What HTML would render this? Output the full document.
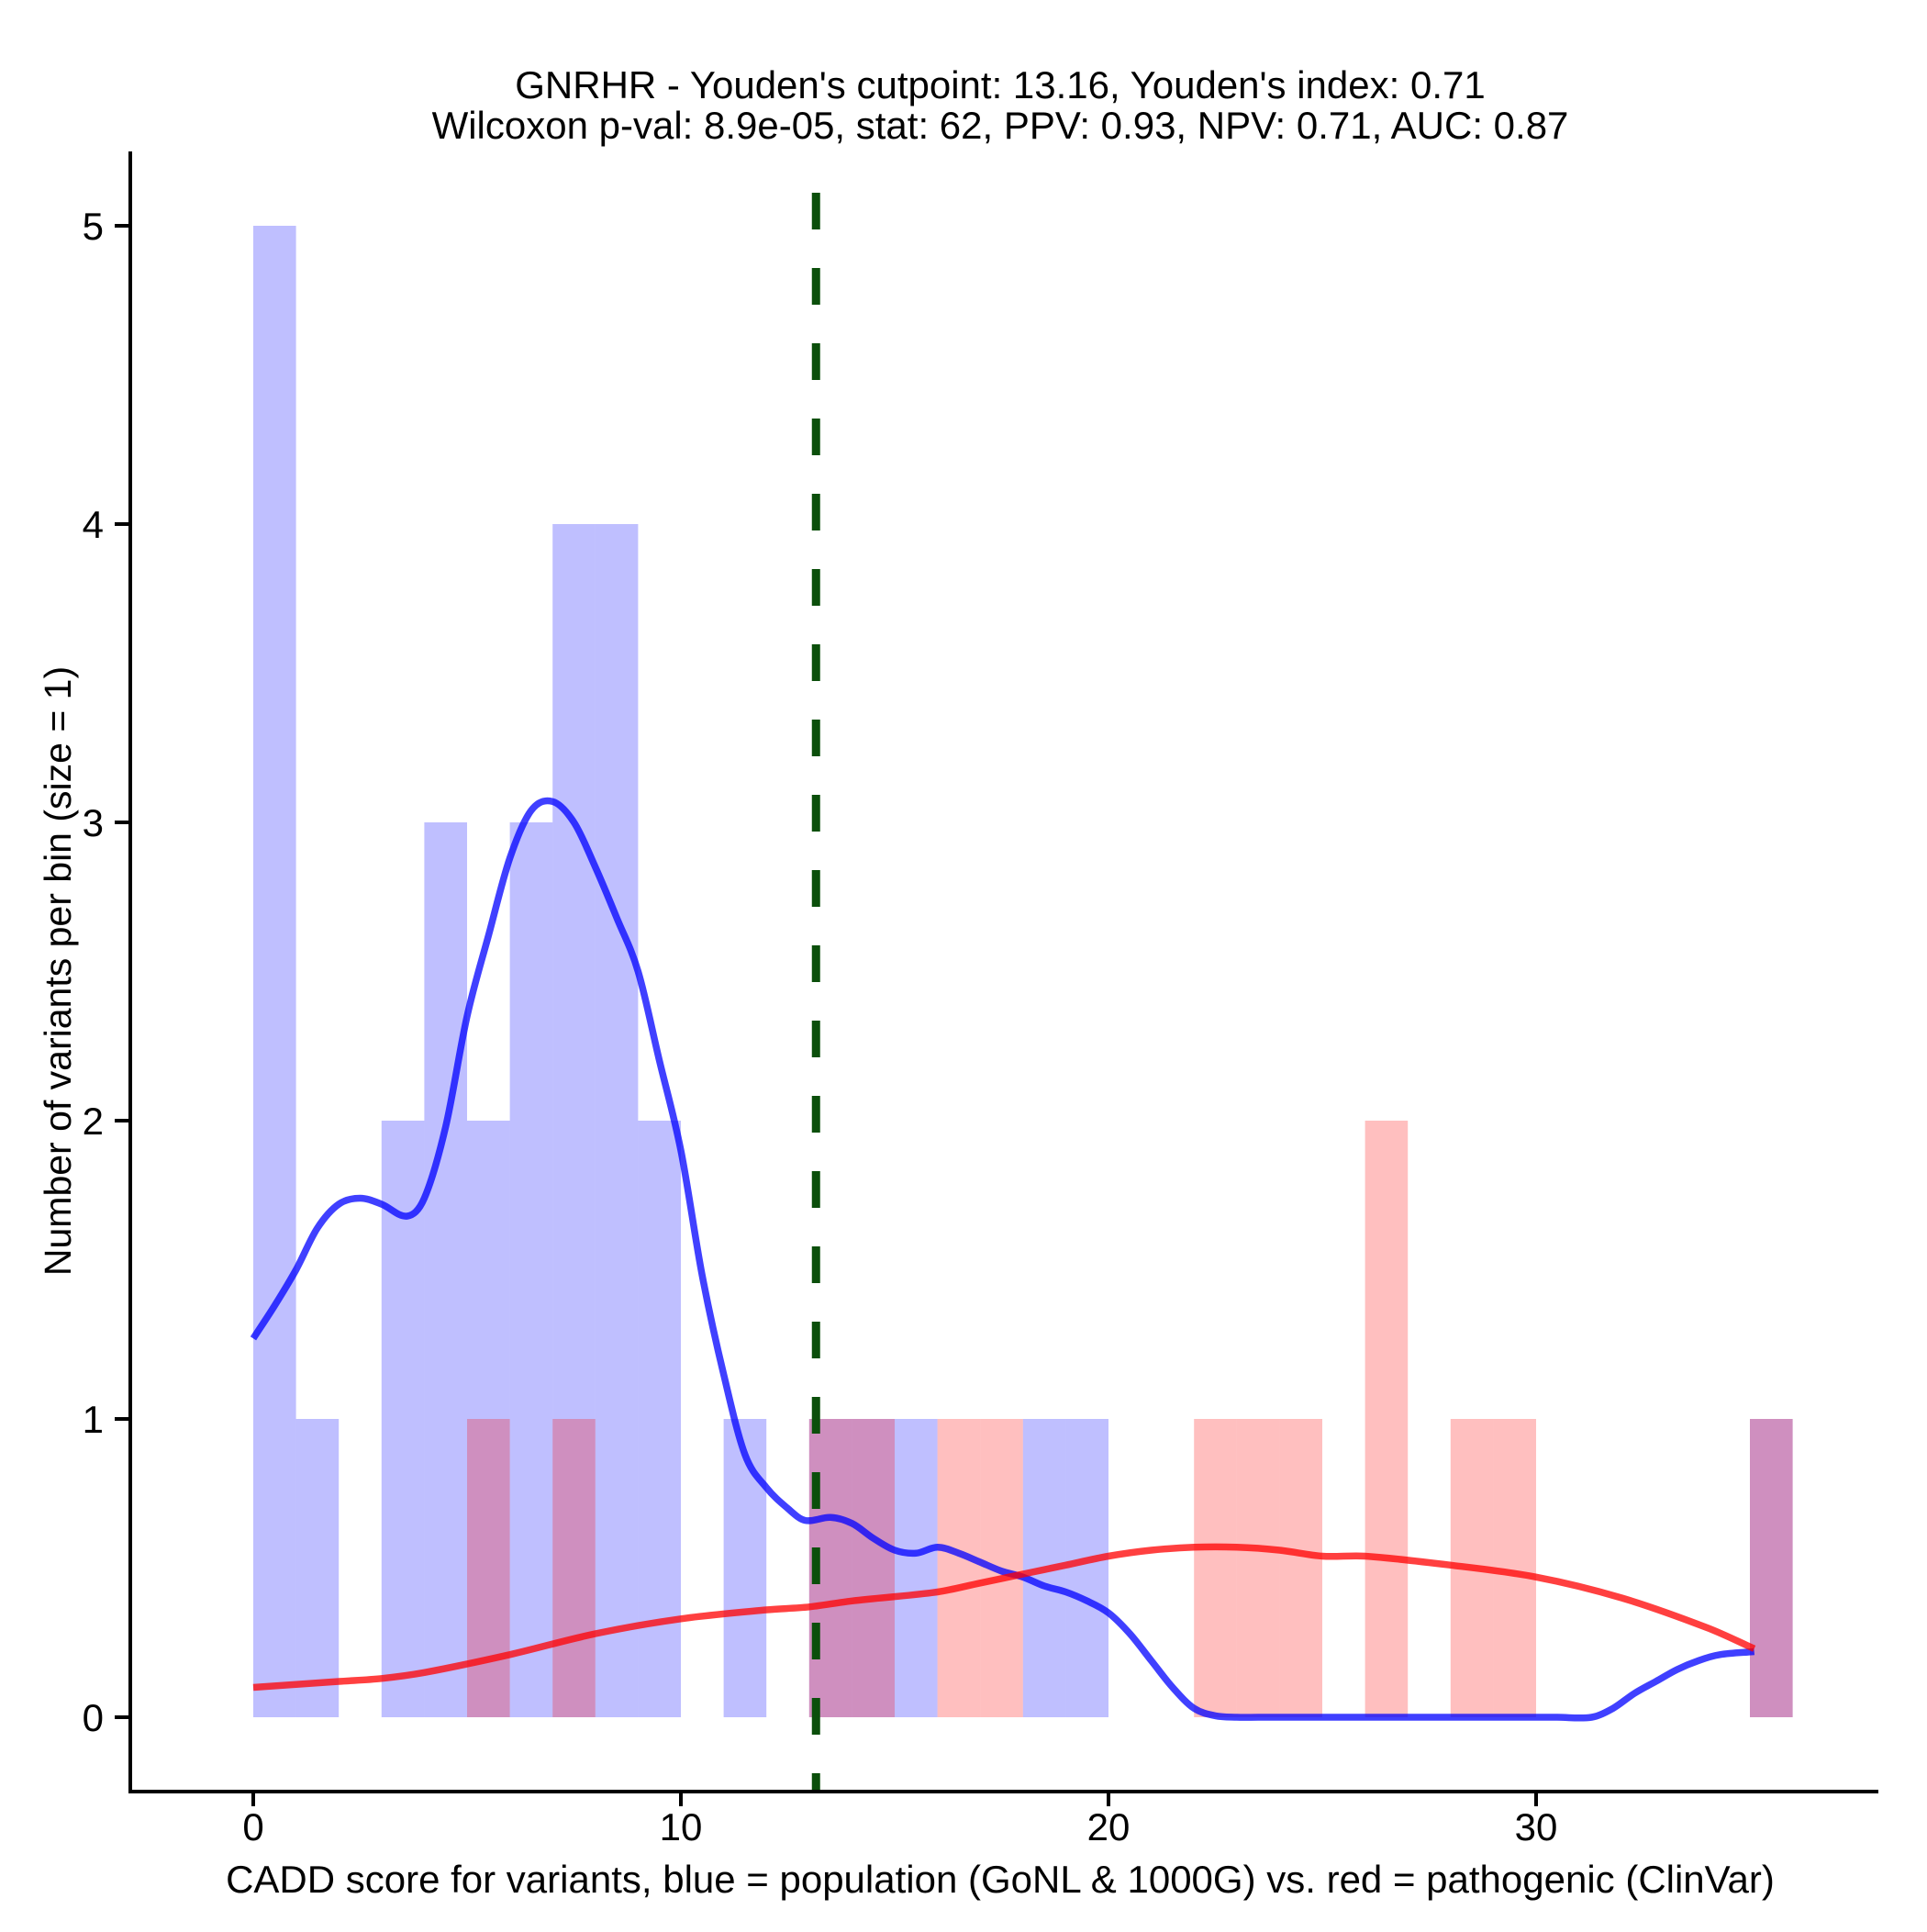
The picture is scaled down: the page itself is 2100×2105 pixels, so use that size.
<!DOCTYPE html>
<html><head><meta charset="utf-8"><style>
body{margin:0;background:#fff}
svg text{font-family:"Liberation Sans",Arial,sans-serif;fill:#000}
</style></head><body>
<svg id="chart" width="2100" height="2100" viewBox="0 0 2100 2100" xmlns="http://www.w3.org/2000/svg">
<text x="1090" y="107" font-size="42" text-anchor="middle">GNRHR - Youden's cutpoint: 13.16, Youden's index: 0.71</text>
<text x="1090" y="151" font-size="42" text-anchor="middle">Wilcoxon p-val: 8.9e-05, stat: 62, PPV: 0.93, NPV: 0.71, AUC: 0.87</text>
<g id="bars-blue"></g>
<g id="bars-red"></g>
<g id="curves"></g>
<g id="axes"></g>
<text x="1090" y="2062" font-size="42" text-anchor="middle">CADD score for variants, blue = population (GoNL &amp; 1000G) vs. red = pathogenic (ClinVar)</text>
<text transform="translate(77,1058) rotate(-90)" font-size="41" text-anchor="middle">Number of variants per bin (size = 1)</text>
</svg>
<script>
const blueCounts=[5,1,0,2,3,2,3,4,4,2,0,1,0,1,1,1,0,0,1,1,0,0,0,0,0,0,0,0,0,0,0,0,0,0,0,1];
const redCounts=[0,0,0,0,0,1,0,1,0,0,0,0,0,1,1,0,1,1,0,0,0,0,1,1,1,0,2,0,1,1,0,0,0,0,0,1];
const blueCurveX=[0,0.5,1,1.5,2,2.5,3,3.6,4,4.5,5,5.5,6,6.5,7,7.5,8,8.5,9,9.5,10,10.5,11,11.5,12,12.5,12.9,13.5,14,14.5,15,15.5,16,16.5,17,17.5,18,18.5,19,19.5,20,20.5,21,21.5,22,22.5,23,23.5,25,27,29,30.5,31.3,31.8,32.3,32.8,33.3,33.8,34.3,35.1];
const blueCurveY=[1.27,1.38,1.5,1.64,1.72,1.74,1.72,1.68,1.74,1.98,2.35,2.62,2.88,3.04,3.07,3.0,2.85,2.68,2.5,2.2,1.9,1.48,1.15,0.88,0.77,0.7,0.66,0.67,0.65,0.6,0.56,0.55,0.57,0.55,0.52,0.49,0.47,0.44,0.42,0.39,0.35,0.28,0.19,0.1,0.03,0.005,0,0,0,0,0,0,0,0.03,0.08,0.12,0.16,0.19,0.21,0.22];
const redCurveX=[0,2,3,4,6,8,10,12,13,14,16,17,18,19,20,21,22,23,24,25,26,28,30,32,34,35.1];
const redCurveY=[0.1,0.12,0.13,0.15,0.21,0.28,0.33,0.36,0.37,0.39,0.42,0.45,0.48,0.51,0.54,0.56,0.57,0.57,0.56,0.54,0.54,0.51,0.47,0.4,0.3,0.23];
const xTicks=[0,10,20,30];
const yTicks=[0,1,2,3,4,5];
const cutpoint=13.16;

const NS="http://www.w3.org/2000/svg";
const xs=v=>276+v*46.6;
const ys=v=>1871-v*325;
function mk(tag,attrs,parent){const e=document.createElementNS(NS,tag);for(const k in attrs)e.setAttribute(k,attrs[k]);parent.appendChild(e);return e;}
const gB=document.getElementById('bars-blue'),gR=document.getElementById('bars-red'),gC=document.getElementById('curves'),gA=document.getElementById('axes');
blueCounts.forEach((c,i)=>{if(!c)return;
 const r=mk('rect',{x:xs(i),y:ys(c),width:xs(i+1)-xs(i),height:ys(0)-ys(c),fill:'rgb(0,0,255)','fill-opacity':0.25},gB);
 
 });
redCounts.forEach((c,i)=>{if(!c)return;
 const r=mk('rect',{x:xs(i),y:ys(c),width:xs(i+1)-xs(i),height:ys(0)-ys(c),fill:'rgb(255,0,0)','fill-opacity':0.25},gR);
 
 });
function path(X,Y){
 const P=X.map((x,i)=>[xs(x),ys(Y[i])]);
 let d='M'+P[0][0].toFixed(1)+','+P[0][1].toFixed(1);
 for(let i=0;i<P.length-1;i++){
  const p0=P[Math.max(0,i-1)],p1=P[i],p2=P[i+1],p3=P[Math.min(P.length-1,i+2)];
  const seg=p2[0]-p1[0];
  const t1x=(p2[0]-p0[0]),t1y=(p2[1]-p0[1]),t2x=(p3[0]-p1[0]),t2y=(p3[1]-p1[1]);
  const k1=t1x?seg/t1x/3:0,k2=t2x?seg/t2x/3:0;
  const c1=[p1[0]+t1x*k1,p1[1]+t1y*k1];
  const c2=[p2[0]-t2x*k2,p2[1]-t2y*k2];
  d+='C'+c1[0].toFixed(1)+','+c1[1].toFixed(1)+' '+c2[0].toFixed(1)+','+c2[1].toFixed(1)+' '+p2[0].toFixed(1)+','+p2[1].toFixed(1);
 }
 return d;}
const pb=mk('path',{d:path(blueCurveX,blueCurveY),fill:'none',stroke:'rgb(0,0,255)','stroke-opacity':0.75,'stroke-width':7.5,'stroke-linejoin':'round'},gC);


const pr=mk('path',{d:path(redCurveX,redCurveY),fill:'none',stroke:'rgb(255,0,0)','stroke-opacity':0.75,'stroke-width':7.5,'stroke-linejoin':'round'},gC);


const cl=mk('line',{x1:xs(cutpoint),x2:xs(cutpoint),y1:210,y2:1952,stroke:'#0b4f0b','stroke-width':9,'stroke-dasharray':'40 42'},gC);


mk('line',{x1:142,x2:142,y1:165,y2:1954,stroke:'#000','stroke-width':4},gA);
mk('line',{x1:140,x2:2047,y1:1952,y2:1952,stroke:'#000','stroke-width':4},gA);
yTicks.forEach(v=>{mk('line',{x1:125,x2:142,y1:ys(v),y2:ys(v),stroke:'#000','stroke-width':4},gA);
 const t=mk('text',{x:113,y:ys(v)+15,'font-size':42,'text-anchor':'end'},gA);t.textContent=v;
 
 });
xTicks.forEach(v=>{mk('line',{x1:xs(v),x2:xs(v),y1:1952,y2:1968,stroke:'#000','stroke-width':4},gA);
 const t=mk('text',{x:xs(v),y:2005,'font-size':42,'text-anchor':'middle'},gA);t.textContent=v;
 
 });
</script>
</body></html>
